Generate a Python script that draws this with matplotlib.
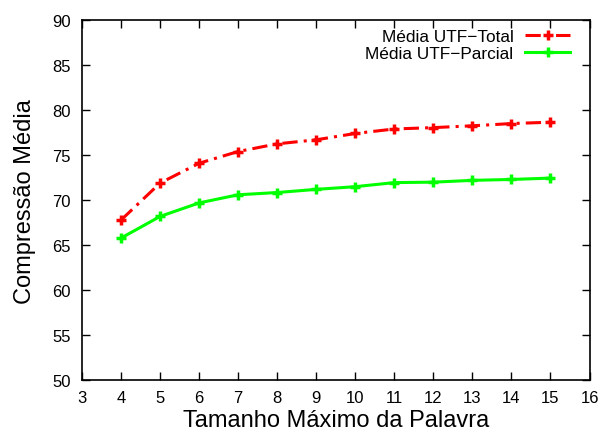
import matplotlib
matplotlib.use("Agg")
import matplotlib.pyplot as plt

tamanho = [4, 5, 6, 7, 8, 9, 10, 11, 12, 13, 14, 15]
media_total = [67.8, 71.9, 74.1, 75.4, 76.25, 76.7, 77.4, 77.9, 78.05, 78.25, 78.5, 78.65]
media_parcial = [65.8, 68.2, 69.7, 70.6, 70.85, 71.2, 71.5, 71.95, 72.0, 72.2, 72.3, 72.45]
xticks = list(range(3, 17))
yticks = list(range(50, 91, 5))

plt.rcParams['font.family'] = ['Liberation Sans', 'DejaVu Sans']

fig = plt.figure(figsize=(6.14, 4.35), dpi=100)
ax = fig.add_axes([0.1336, 0.123, 0.8265, 0.829])

ax.plot(tamanho, media_total, color='#ff0000', linestyle=(0, (5, 2, 1, 2)), linewidth=2.2,
        marker='+', markersize=7.5, markeredgewidth=2.5, label='Média UTF−Total')
ax.plot(tamanho, media_parcial, color='#00ff00', linestyle='-', linewidth=2.2,
        marker='+', markersize=7.5, markeredgewidth=2.5, label='Média UTF−Parcial')

ax.set_xlim(3, 16)
ax.set_ylim(50, 90)
ax.set_xticks(xticks)
ax.set_yticks(yticks)
ax.tick_params(direction='in', top=True, right=True, length=6, width=1, labelsize=12, pad=7)
ax.tick_params(axis='y', pad=8)
for s in ax.spines.values():
    s.set_linewidth(1.2)

ax.set_xlabel('Tamanho Máximo da Palavra', fontsize=17, labelpad=3)
ax.set_ylabel('Compressão Média', fontsize=17, labelpad=12)

leg = ax.legend(loc='upper right', bbox_to_anchor=(0.962, 0.975), markerfirst=False,
                frameon=False, fontsize=12.4, handlelength=2.6, borderaxespad=0,
                borderpad=0, labelspacing=0.1, handletextpad=0.7)
for t in leg.get_texts():
    t.set_ha('right')

fig.savefig('out.png', dpi=100)
